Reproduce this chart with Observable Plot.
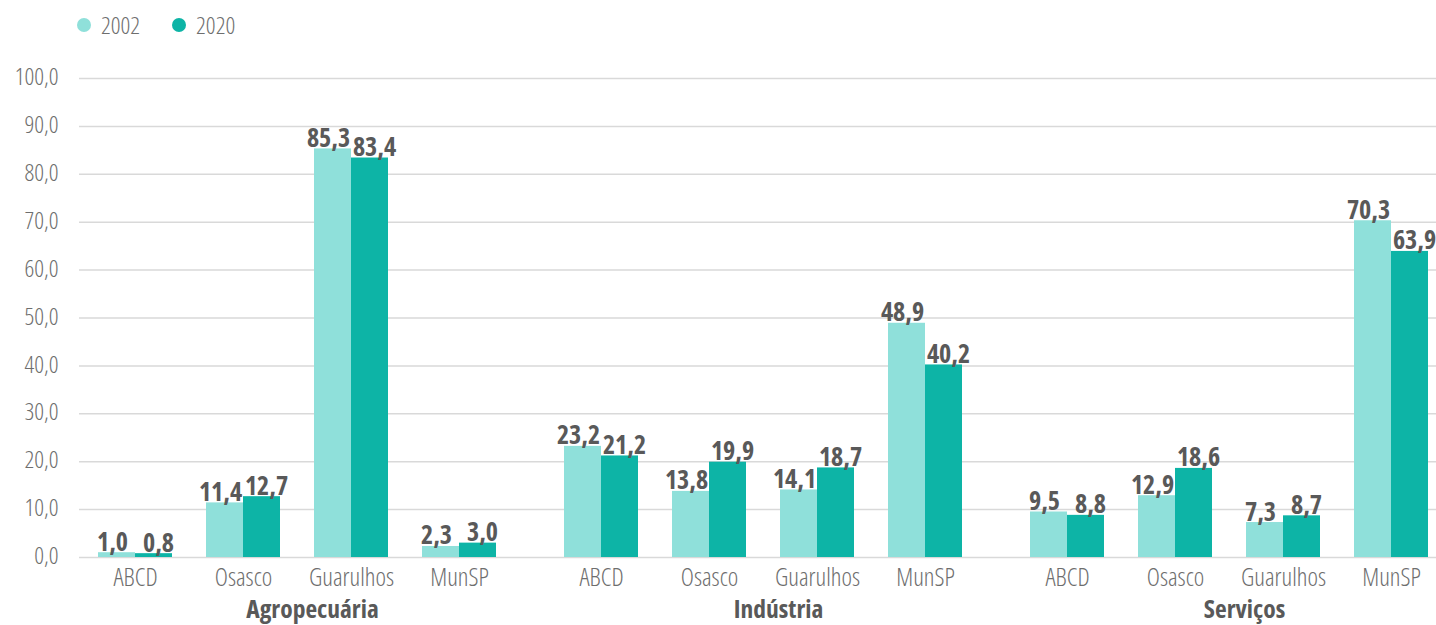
<!DOCTYPE html>
<html>
<head>
<meta charset="utf-8">
<script src="https://cdn.jsdelivr.net/npm/d3@7"></script>
<script src="https://cdn.jsdelivr.net/npm/@observablehq/plot@0.6"></script>
<style>
  html, body { margin: 0; padding: 0; background: #fff; overflow: hidden; }
  body { width: 1436px; height: 625px; position: relative;
         font-family: "Open Sans", "DejaVu Sans Condensed", sans-serif; font-stretch: 75%; }
  #legend { position: absolute; left: 77px; top: 8px; display: flex; align-items: center; font-size: 24px; font-weight: 300; color: #6e6e6e; z-index: 2; }
  #legend .item { display: flex; align-items: center; margin-right: 32px; }
  #legend .dot { width: 14px; height: 14px; border-radius: 50%; margin-right: 10px; display: inline-block; }
  #chart svg { display: block; }
  #chart svg text { font-stretch: 75%; }
</style>
</head>
<body>
<div id="legend"></div>
<div id="chart"></div>
<script>
const sectors = ["Agropecuária", "Indústria", "Serviços"];
const regions = ["ABCD", "Osasco", "Guarulhos", "MunSP"];
const years = ["2002", "2020"];
const v2002 = [1.0, 11.4, 85.3, 2.3, 23.2, 13.8, 14.1, 48.9, 9.5, 12.9, 7.3, 70.3];
const v2020 = [0.8, 12.7, 83.4, 3.0, 21.2, 19.9, 18.7, 40.2, 8.8, 18.6, 8.7, 63.9];
const yTicks = [0, 10, 20, 30, 40, 50, 60, 70, 80, 90, 100];
const colors = {"2002": "#8fe0da", "2020": "#0db4a6"};

const FONT = '"Open Sans", "DejaVu Sans Condensed", sans-serif';
const fmt = v => d3.format(".1f")(v).replace(".", ",");

const rows = [];
sectors.forEach((s, si) => regions.forEach((r, ri) => {
  rows.push({sector: s, region: r, year: "2002", value: v2002[si * 4 + ri]});
  rows.push({sector: s, region: r, year: "2020", value: v2020[si * 4 + ri]});
}));
const r02 = rows.filter(d => d.year === "2002");
const r20 = rows.filter(d => d.year === "2020");

const legend = document.getElementById("legend");
years.forEach(y => {
  const it = document.createElement("div");
  it.className = "item";
  it.innerHTML = `<span class="dot" style="background:${colors[y]}"></span><span>${y}</span>`;
  legend.appendChild(it);
});

const chart = Plot.plot({
  width: 1436,
  height: 625,
  marginLeft: 78,
  marginRight: -42,
  marginTop: 78,
  marginBottom: 68,
  style: {fontFamily: FONT, background: "white", fontStretch: "75%"},
  fx: {domain: sectors, padding: 0, label: null},
  x: {domain: regions, paddingInner: 0.316, paddingOuter: 0.314, align: 0.277, label: null},
  y: {domain: [0, 100], label: null},
  marks: [
    Plot.gridY(yTicks, {stroke: "#d9d9d9", strokeOpacity: 1, strokeWidth: 1.5}),
    Plot.axisY({ticks: yTicks, tickSize: 0, tickPadding: 21, tickFormat: fmt, fontSize: 24, fontWeight: 300, fill: "#6e6e6e", label: null, dy: -1}),
    Plot.barY(r02, {fx: "sector", x: "region", y: "value", fill: colors["2002"], insetRight: 37}),
    Plot.barY(r20, {fx: "sector", x: "region", y: "value", fill: colors["2020"], insetLeft: 37}),
    Plot.text(r02, {fx: "sector", x: "region", y: "value", text: d => fmt(d.value), dx: -23, dy: -2, lineAnchor: "bottom", fontSize: 26, fontWeight: "bold", fill: "#595959"}),
    Plot.text(r20, {fx: "sector", x: "region", y: "value", text: d => fmt(d.value), dx: 23, dy: -2, lineAnchor: "bottom", fontSize: 26, fontWeight: "bold", fill: "#595959"}),
    Plot.axisX({tickSize: 0, tickPadding: 11, fontSize: 25, fontWeight: 300, fill: "#6e6e6e", label: null}),
    Plot.axisFx({anchor: "bottom", tickSize: 0, tickPadding: 42, fontSize: 25.5, fontWeight: "bold", fill: "#595959", label: null})
  ]
});
document.getElementById("chart").appendChild(chart);
</script>
</body>
</html>
